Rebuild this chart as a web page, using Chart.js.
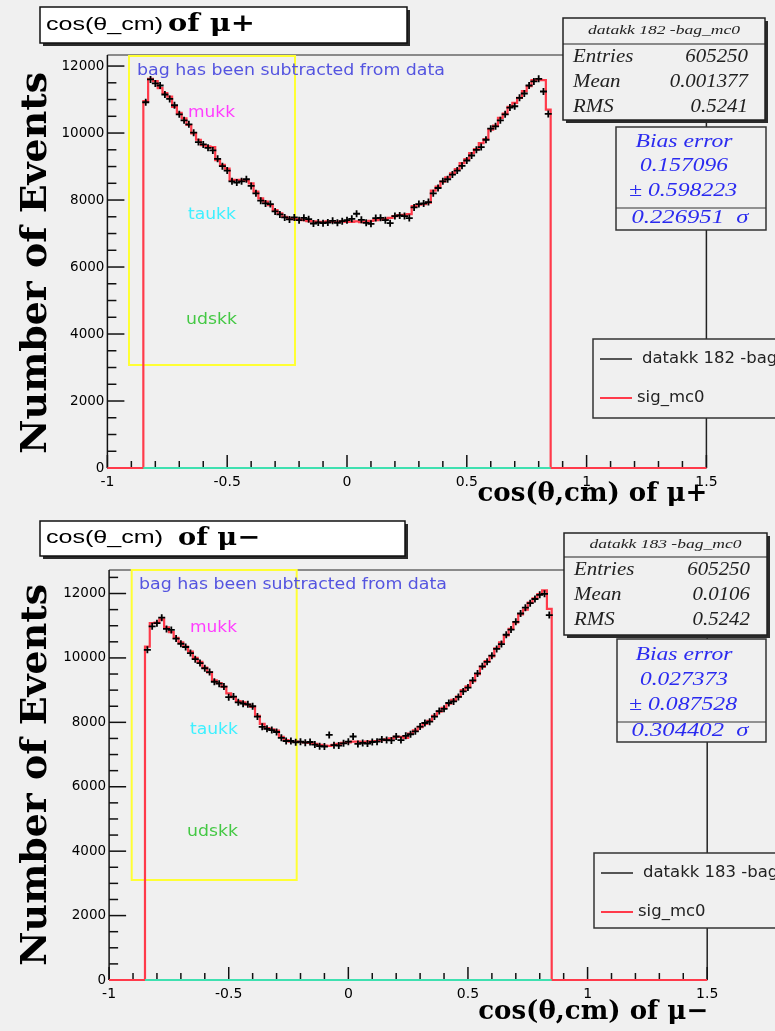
<!DOCTYPE html>
<html><head><meta charset="utf-8">
<script src="https://cdn.jsdelivr.net/npm/chart.js@4/dist/chart.umd.min.js"></script>
<style>
html,body{margin:0;padding:0;background:#f0f0f0;}
#wrap{position:relative;width:775px;height:1031px;overflow:hidden;}
canvas{position:absolute;left:0;}
</style></head><body>
<div id="wrap">
<canvas id="c1" width="775" height="515" style="top:0px"></canvas>
<canvas id="c2" width="775" height="516" style="top:515px"></canvas>
</div>
<script>
// ---------- data ----------
const binWidth = 0.02;
const binCenters = Array.from({length: 85}, (_, i) => +(-0.84 + binWidth * i).toFixed(2));
const xRange = [-1, 1.5];
const xTickValues = [-1, -0.5, 0, 0.5, 1, 1.5];
const xTickLabels = ['-1', '-0.5', '0', '0.5', '1', '1.5'];
const yTickValues = [0, 2000, 4000, 6000, 8000, 10000, 12000];
const yTickLabels = ['0', '2000', '4000', '6000', '8000', '10000', '12000'];

// mu+ : signal MC (red histogram) and background-subtracted data (black points)
const mcMuPlus = [10950,11620,11550,11340,11190,11090,10780,10600,10440,10240,
  9990,9800,9640,9600,9580,9190,9050,8940,8600,8600,
  8600,8580,8500,8250,8050,7950,7850,7700,7600,7500,
  7460,7430,7420,7400,7370,7360,7350,7340,7360,7350,
  7350,7360,7350,7350,7360,7340,7360,7380,7400,7420,
  7440,7470,7520,7550,7560,7580,7820,7860,7880,7920,
  8280,8400,8550,8680,8800,8920,9100,9220,9400,9520,
  9700,9820,10100,10220,10450,10580,10780,10900,11050,11250,
  11400,11580,11600,11580,10700];
const dataMuPlus = [10920,11600,11480,11420,11150,11020,10830,10560,10380,10260,
  10010,9730,9660,9560,9480,9230,9010,8880,8560,8520,
  8560,8620,8420,8200,7980,7900,7880,7660,7570,7480,
  7420,7480,7400,7470,7430,7300,7330,7310,7330,7380,
  7320,7370,7400,7440,7590,7410,7320,7290,7460,7470,
  7400,7310,7520,7540,7520,7460,7780,7880,7900,7940,
  8200,8360,8560,8620,8760,8880,9020,9180,9330,9500,
  9580,9800,10130,10200,10380,10560,10760,10800,11050,11180,
  11420,11540,11620,11240,10570];

// mu- : signal MC and data
const mcMuMinus = [10350,11080,11100,11200,10950,10800,10620,10480,10350,10200,
  10000,9880,9700,9550,9300,9220,9100,8900,8780,8660,
  8620,8550,8480,8200,7950,7820,7780,7740,7550,7450,
  7400,7400,7390,7380,7360,7330,7300,7280,7270,7300,
  7330,7360,7380,7400,7400,7380,7400,7410,7420,7450,
  7470,7500,7550,7550,7520,7650,7750,7850,7950,8050,
  8200,8330,8450,8580,8700,8800,9000,9120,9280,9500,
  9720,9900,10050,10300,10480,10700,10900,11100,11350,11500,
  11720,11850,11980,12100,11520];
const dataMuMinus = [10250,10980,11080,11250,10900,10870,10600,10440,10340,10150,
  9960,9840,9680,9560,9260,9200,9110,8780,8800,8620,
  8580,8560,8500,8180,7860,7800,7760,7700,7520,7420,
  7420,7380,7400,7370,7390,7310,7260,7250,7610,7290,
  7280,7350,7400,7560,7330,7360,7340,7390,7400,7470,
  7450,7440,7560,7450,7580,7630,7720,7870,7980,8020,
  8180,8350,8420,8600,8650,8790,8960,9080,9300,9520,
  9740,9880,10070,10280,10430,10720,10880,11120,11380,11560,
  11700,11830,11960,11990,11330];

const statsLabels = ['Entries', 'Mean', 'RMS'];
const statsMuPlus = ['605250', '0.001377', '0.5241'];
const statsMuMinus = ['605250', '0.0106', '0.5242'];
const biasMuPlus = ['Bias error', '0.157096', '\u00b1 0.598223', '0.226951  \u03c3'];
const biasMuMinus = ['Bias error', '0.027373', '\u00b1 0.087528', '0.304402  \u03c3'];
const sampleLabels = ['mukk', 'taukk', 'udskk'];

// ---------- helpers ----------
function histPoints(vals) {
  const pts = [{x: xRange[0], y: 0}];
  vals.forEach((v, i) => pts.push({x: binCenters[i] - binWidth / 2, y: v}));
  pts.push({x: binCenters[vals.length - 1] + binWidth / 2, y: 0});
  pts.push({x: xRange[1], y: 0});
  return pts;
}
function markerPoints(vals) { return vals.map((v, i) => ({x: binCenters[i], y: v})); }

function txt(ctx, s, x, y, o) {
  ctx.save();
  ctx.font = o.font; ctx.fillStyle = o.color || '#000';
  ctx.textBaseline = 'middle';
  const w = ctx.measureText(s).width;
  const sx = o.w ? o.w / w : (o.sx || 1);
  ctx.translate(x, y);
  if (o.rot) ctx.rotate(o.rot);
  ctx.scale(sx, o.sy || 1);
  ctx.textAlign = o.align || 'left';
  ctx.fillText(s, 0, 0);
  ctx.restore();
}
function line(ctx, x1, y1, x2, y2) { ctx.beginPath(); ctx.moveTo(x1, y1); ctx.lineTo(x2, y2); ctx.stroke(); }
function box(ctx, r, fill, stroke, lw, shadow) {
  const [x1, y1, x2, y2] = r;
  if (shadow) { ctx.fillStyle = '#2a2a2a'; ctx.fillRect(x1 + shadow, y1 + shadow, x2 - x1, y2 - y1); }
  ctx.fillStyle = fill; ctx.fillRect(x1, y1, x2 - x1, y2 - y1);
  ctx.strokeStyle = stroke; ctx.lineWidth = lw; ctx.strokeRect(x1, y1, x2 - x1, y2 - y1);
}

function decor(P) {
  return {
    id: 'decor' + P.id,
    beforeDraw(chart) {
      const ctx = chart.ctx; ctx.save();
      ctx.fillStyle = '#f0f0f0'; ctx.fillRect(0, 0, chart.width, chart.height);
      ctx.restore();
    },
    beforeDatasetsDraw(chart) {
      const ctx = chart.ctx, a = chart.chartArea, xs = chart.scales.x, ys = chart.scales.y;
      ctx.save();
      ctx.lineCap = 'butt';
      // frame top (gray) and right side
      ctx.strokeStyle = '#8a8a8a'; ctx.lineWidth = 2;
      line(ctx, a.left, a.top, P.stats[0], a.top);
      ctx.strokeStyle = '#222'; ctx.lineWidth = 1.5;
      line(ctx, a.right, P.stats[3], a.right, a.bottom);
      // yellow box
      ctx.strokeStyle = '#ffff33'; ctx.lineWidth = 2;
      ctx.strokeRect(P.yellow[0], P.yellow[1], P.yellow[2] - P.yellow[0], P.yellow[3] - P.yellow[1]);
      // axes
      ctx.strokeStyle = '#111'; ctx.lineWidth = 1.5;
      line(ctx, a.left, a.top, a.left, a.bottom);
      line(ctx, a.left, a.bottom, a.right, a.bottom);
      for (let v = 0; v <= ys.max; v += 500) {
        const py = ys.getPixelForValue(v);
        line(ctx, a.left, py, a.left + (v % 2000 === 0 ? 17 : 9), py);
      }
      for (let k = -10; k <= 15; k++) {
        const px = xs.getPixelForValue(k / 10);
        line(ctx, px, a.bottom, px, a.bottom - (k % 5 === 0 ? 13 : 7));
      }
      ctx.restore();
    },
    afterDraw(chart) {
      const ctx = chart.ctx, a = chart.chartArea;
      ctx.save();
      // annotations in plot
      txt(ctx, 'bag has been subtracted from data', P.bag[0], P.bag[1], {font: '16px DejaVu Sans', color: '#5454e0', w: 308});
      txt(ctx, sampleLabels[0], P.mukk[0], P.mukk[1], {font: '16px DejaVu Sans', color: '#ff3cff', w: 47});
      txt(ctx, sampleLabels[1], P.taukk[0], P.taukk[1], {font: '16px DejaVu Sans', color: '#3ef0ff', w: 48});
      txt(ctx, sampleLabels[2], P.udskk[0], P.udskk[1], {font: '16px DejaVu Sans', color: '#44c844', w: 51});
      // title box
      box(ctx, P.title, '#ffffff', '#111', 1.5, 3);
      txt(ctx, 'cos(\u03b8_cm)', P.title[0] + 6, (P.title[1] + P.title[3]) / 2, {font: '18px Liberation Sans', w: 117});
      txt(ctx, P.ofText, P.title[0] + P.ofDx, (P.title[1] + P.title[3]) / 2, {font: 'bold 24px DejaVu Serif', w: P.ofW});
      // stats box
      const S = P.stats;
      box(ctx, S, '#f0f0f0', '#222', 1.5, 3);
      ctx.strokeStyle = '#222'; ctx.lineWidth = 1.2; line(ctx, S[0], P.statsSep, S[2], P.statsSep);
      txt(ctx, P.statsTitle, (S[0] + S[2]) / 2, (S[1] + P.statsSep) / 2, {font: 'italic 13px Liberation Serif', align: 'center', w: 152, color: '#222'});
      for (let i = 0; i < 3; i++) {
        const yy = P.statsRows[i];
        txt(ctx, statsLabels[i], S[0] + 10, yy, {font: 'italic 18px Liberation Serif', sx: 1.16, color: '#222'});
        txt(ctx, P.statsVals[i], S[2] - 17, yy, {font: 'italic 18px Liberation Serif', sx: 1.16, align: 'right', color: '#222'});
      }
      // bias box
      const B = P.bias;
      box(ctx, B, '#f0f0f0', '#333', 1.5, 0);
      ctx.strokeStyle = '#333'; ctx.lineWidth = 1.2; line(ctx, B[0], P.biasSep, B[2], P.biasSep);
      const bw = [97, 88, 108, 117];
      for (let i = 0; i < 4; i++) {
        txt(ctx, P.biasVals[i], P.biasX[i], P.biasRows[i], {font: 'italic 19px Liberation Serif', color: '#2b2bf0', align: 'center', w: bw[i]});
      }
      // legend
      const L = P.legend;
      box(ctx, L, '#f0f0f0', '#333', 1.5, 0);
      ctx.lineWidth = 1.5; ctx.strokeStyle = '#222';
      line(ctx, L[0] + 7, P.legRows[0], L[0] + 39, P.legRows[0]);
      ctx.strokeStyle = '#ff3a4a'; ctx.lineWidth = 2;
      line(ctx, L[0] + 7, P.legRows[1], L[0] + 39, P.legRows[1]);
      txt(ctx, P.legText, L[0] + 49, P.legRows[0], {font: '15px DejaVu Sans', sx: 1.1, color: '#222'});
      txt(ctx, 'sig_mc0', L[0] + 44, P.legRows[1], {font: '15px DejaVu Sans', sx: 1.1, color: '#222'});
      // axis titles
      txt(ctx, 'Number of Events', 37, P.yTitleY, {font: 'bold 35px DejaVu Serif', rot: -Math.PI / 2, align: 'center', w: 382});
      txt(ctx, P.xTitle, a.right + 1, P.xTitleY, {font: 'bold 26px DejaVu Serif', align: 'right', w: 230});
      ctx.restore();
    }
  };
}

function makeChart(canvasId, P, mc, data, ymax) {
  const H = document.getElementById(canvasId).height;
  return new Chart(document.getElementById(canvasId), {
    type: 'line',
    data: {
      datasets: [
        {label: 'datakk', data: markerPoints(data), showLine: false, pointStyle: 'cross', pointRadius: 3.5,
         borderColor: '#000', backgroundColor: '#000', pointBorderWidth: 1.8, clip: 10, order: 0},
        {label: 'bkg', data: [{x: binCenters[0] - binWidth / 2, y: 0}, {x: binCenters[84] + binWidth / 2, y: 0}],
         borderColor: '#3fe0b0', borderWidth: 2.2, pointRadius: 0, clip: 10, order: 1},
        {label: 'sig_mc0', data: histPoints(mc), stepped: 'before', borderColor: '#ff3a4a', borderWidth: 2.2,
         pointRadius: 0, clip: 10, order: 2}
      ]
    },
    options: {
      responsive: false, animation: false, events: [],
      layout: {padding: {left: 0, top: P.areaTop, right: 775 - P.areaRight, bottom: 0}},
      plugins: {legend: {display: false}, tooltip: {enabled: false}},
      scales: {
        x: {
          type: 'linear', min: xRange[0], max: xRange[1],
          grid: {display: false, drawTicks: false}, border: {display: false},
          afterBuildTicks: s => { s.ticks = xTickValues.map(v => ({value: v})); },
          afterFit: s => { s.height = H - P.areaBottom; },
          ticks: {autoSkip: false, maxRotation: 0, padding: 6, color: '#000',
                  font: {family: 'DejaVu Sans', size: 14},
                  callback: v => xTickLabels[xTickValues.indexOf(v)]}
        },
        y: {
          type: 'linear', min: 0, max: ymax,
          grid: {display: false, drawTicks: false}, border: {display: false},
          afterBuildTicks: s => { s.ticks = yTickValues.map(v => ({value: v})); },
          afterFit: s => { s.width = P.areaLeft; },
          ticks: {autoSkip: false, padding: 3, color: '#000', font: {family: 'DejaVu Sans', size: 13.5},
                  callback: v => yTickLabels[yTickValues.indexOf(v)]}
        }
      }
    },
    plugins: [decor(P)]
  });
}

const panelTop = {
  id: 1, areaLeft: 107.4, areaRight: 706.4, areaTop: 55, areaBottom: 468,
  yellow: [129, 56, 295, 365],
  bag: [137, 71], mukk: [188, 113], taukk: [188, 215], udskk: [186, 320],
  title: [40, 7, 407, 43], ofText: 'of \u03bc+', ofDx: 128, ofW: 87,
  stats: [563, 18, 765, 120], statsSep: 44, statsTitle: 'datakk 182 -bag_mc0',
  statsRows: [57, 82, 107], statsVals: statsMuPlus,
  bias: [616, 127, 766, 230], biasSep: 208, biasRows: [142, 166, 191, 218],
  biasX: [684, 684, 683, 690], biasVals: biasMuPlus,
  legend: [593, 339, 790, 418], legRows: [359, 398], legText: 'datakk 182 -bag',
  yTitleY: 263, xTitle: 'cos(\u03b8,cm) of \u03bc+', xTitleY: 494
};
const panelBottom = {
  id: 2, areaLeft: 109.1, areaRight: 707.2, areaTop: 55, areaBottom: 465,
  yellow: [131.7, 55, 296.7, 365],
  bag: [139, 70], mukk: [190, 113], taukk: [190, 215], udskk: [187, 317],
  title: [40, 6, 405, 41], ofText: 'of \u03bc\u2212', ofDx: 138, ofW: 82,
  stats: [564, 18, 767, 120], statsSep: 42, statsTitle: 'datakk 183 -bag_mc0',
  statsRows: [55, 80, 105], statsVals: statsMuMinus,
  bias: [617, 124, 766, 227], biasSep: 207, biasRows: [140, 165, 190, 216],
  biasX: [684, 684, 683, 690], biasVals: biasMuMinus,
  legend: [594, 338, 790, 413], legRows: [358, 397], legText: 'datakk 183 -bag',
  yTitleY: 260, xTitle: 'cos(\u03b8,cm) of \u03bc\u2212', xTitleY: 497
};

makeChart('c1', panelTop, mcMuPlus, dataMuPlus, 12330);
makeChart('c2', panelBottom, mcMuMinus, dataMuMinus, 12730);
</script>
</body></html>
